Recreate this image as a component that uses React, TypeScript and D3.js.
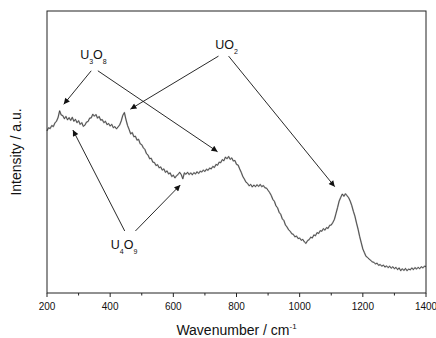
import React from 'react';
import * as d3 from 'd3';

const wavenumbers: number[] = d3.range(200, 1401, 5);
const intensity: number[] = [
  57.5, 58.6, 58.3, 59.4, 59.0, 60.3, 60.9, 62.2, 64.6, 63.1,
  62.9, 61.8, 62.6, 61.4, 62.2, 61.2, 62.3, 60.9, 61.6, 60.4,
  61.1, 59.8, 60.4, 59.1, 59.5, 60.6, 60.8, 62.0, 62.1, 63.4,
  62.7, 63.3, 62.0, 62.6, 61.3, 61.5, 60.4, 60.9, 59.7, 60.1,
  59.2, 59.8, 58.6, 59.0, 58.2, 58.9, 59.6, 61.0, 63.0, 64.0,
  61.5, 59.4, 58.0, 56.4, 56.9, 55.4, 55.6, 54.2, 54.5, 52.9,
  52.6, 51.5, 50.9, 49.4, 48.9, 47.6, 47.8, 46.4, 46.3, 45.2,
  45.5, 44.4, 44.7, 43.6, 44.0, 42.8, 43.3, 42.2, 42.6, 41.3,
  41.8, 40.8, 41.6, 42.0, 42.8, 42.0, 40.5, 42.6, 42.1, 42.8,
  42.0, 42.6, 41.9, 42.7, 42.2, 43.0, 42.4, 43.2, 42.9, 43.6,
  43.1, 43.9, 43.5, 44.3, 44.0, 44.9, 44.5, 45.6, 45.3, 46.4,
  46.2, 47.3, 46.9, 48.2, 47.6, 48.4, 47.4, 47.9, 46.8, 47.0,
  45.6, 45.4, 44.0, 42.8, 41.3, 40.4, 39.3, 38.9, 38.0, 38.5,
  37.6, 38.3, 37.7, 38.4, 37.8, 38.5, 37.7, 38.1, 37.3, 37.2,
  36.4, 35.6, 34.6, 33.2, 32.5, 30.9, 30.2, 28.6, 27.9, 26.3,
  25.7, 24.1, 23.4, 22.4, 21.9, 21.0, 20.8, 19.9, 20.2, 19.3,
  19.5, 18.7, 19.0, 18.1, 17.6, 18.6, 18.9, 19.8, 19.5, 20.6,
  20.3, 21.4, 21.1, 22.1, 21.9, 22.8, 22.3, 23.2, 22.9, 24.0,
  24.1, 25.0, 26.1, 28.2, 30.3, 32.6, 33.9, 35.1, 34.3, 35.2,
  34.5, 33.8, 32.6, 31.0, 29.0, 27.2, 24.8, 22.6, 20.0, 17.8,
  15.6, 14.3, 13.0, 12.6, 12.0, 11.6, 11.0, 10.9, 10.3, 10.6,
  9.8, 10.1, 9.5, 9.9, 9.2, 9.6, 9.0, 9.5, 8.8, 9.3,
  8.6, 9.1, 8.3, 8.9, 7.9, 8.6, 8.0, 8.7, 7.9, 8.5,
  8.2, 8.9, 8.3, 9.0, 8.5, 9.1, 8.6, 9.3, 8.9, 9.5,
  9.4,
];

const majorTicks = [200, 400, 600, 800, 1000, 1200, 1400];
const minorTicks = [300, 500, 700, 900, 1100, 1300];

// annotation labels, anchor in data units
const labels = [
  { parts: ['U', '3', 'O', '8'], x: 305, y: 83.1 },
  { parts: ['U', 'O', '2'], x: 733, y: 86.5 },
  { parts: ['U', '4', 'O', '9'], x: 402, y: 15.6 },
];
const subFlags = [
  [false, true, false, true],
  [false, false, true],
  [false, true, false, true],
];

// arrows: from [cm-1, a.u.] to [cm-1, a.u.]
const arrows = [
  { x1: 340, y1: 78.8, x2: 253, y2: 66.9 },
  { x1: 361, y1: 78.8, x2: 740, y2: 50.1 },
  { x1: 743, y1: 84.0, x2: 464, y2: 65.2 },
  { x1: 775, y1: 84.0, x2: 1111, y2: 37.7 },
  { x1: 446, y1: 22.0, x2: 282, y2: 57.8 },
  { x1: 480, y1: 22.0, x2: 622, y2: 38.3 },
];

const W = 436;
const H = 338;
const margin = { top: 11, right: 10, bottom: 45, left: 47 };
const font = '"Liberation Sans", Arial, sans-serif';

const App: React.FC = () => {
  const x = d3.scaleLinear().domain([200, 1400]).range([margin.left, W - margin.right]);
  const y = d3.scaleLinear().domain([0, 100]).range([H - margin.bottom, margin.top]);

  const pts: [number, number][] = wavenumbers.map((w, i) => [w, intensity[i]]);
  const line = d3.line<[number, number]>()
    .x(d => x(d[0]))
    .y(d => y(d[1]));
  const d = line(pts) || '';

  const x0 = x(200);
  const x1 = x(1400);
  const yb = y(0);
  const yt = y(100);

  return (
    <svg width={W} height={H} style={{ position: 'absolute', left: 0, top: 0 }} fontFamily={font}>
      <defs>
        <marker id="ah" viewBox="0 0 10 10" refX="10" refY="5" markerWidth="8" markerHeight="6"
          markerUnits="userSpaceOnUse" orient="auto">
          <path d="M0,0 L10,5 L0,10 Z" fill="#111" />
        </marker>
      </defs>
      <rect x={0} y={0} width={W} height={H} fill="#fff" />

      {/* spectrum: light grey halo under a dark trace */}
      <path d={d} fill="none" stroke="#bbb" strokeWidth={1.6} strokeLinejoin="round" />
      <path d={d} fill="none" stroke="#222" strokeWidth={0.7} strokeLinejoin="round" />

      {/* frame */}
      <rect x={x0} y={yt} width={x1 - x0} height={yb - yt} fill="none" stroke="#222" strokeWidth={1} />

      {/* bottom axis ticks */}
      {majorTicks.map(t => (
        <g key={t}>
          <line x1={x(t)} x2={x(t)} y1={yb} y2={yb + 4} stroke="#222" strokeWidth={1} />
          <text x={x(t)} y={310} fontSize={10} textAnchor="middle" fill="#111">{t}</text>
        </g>
      ))}
      {minorTicks.map(t => (
        <line key={t} x1={x(t)} x2={x(t)} y1={yb} y2={yb + 2.5} stroke="#222" strokeWidth={1} />
      ))}

      {/* axis titles */}
      <text x={(x0 + x1) / 2} y={335} fontSize={14} textAnchor="middle" fill="#111">
        Wavenumber / cm<tspan fontSize={8} dy={-6}>-1</tspan>
      </text>
      <text transform={`translate(21,${(yb + yt) / 2}) rotate(-90)`} fontSize={14} textAnchor="middle" fill="#111">
        Intensity / a.u.
      </text>

      {/* arrows */}
      {arrows.map((a, i) => (
        <line key={i} x1={x(a.x1)} y1={y(a.y1)} x2={x(a.x2)} y2={y(a.y2)}
          stroke="#111" strokeWidth={0.9} markerEnd="url(#ah)" />
      ))}

      {/* labels */}
      {labels.map((l, i) => {
        let prevSub = false;
        return (
          <text key={i} x={x(l.x)} y={y(l.y)} fontSize={12.5} fill="#111">
            {l.parts.map((p, j) => {
              const sub = subFlags[i][j];
              const dy = sub && !prevSub ? 5 : !sub && prevSub ? -5 : 0;
              prevSub = sub;
              return (
                <tspan key={j} dy={dy} fontSize={sub ? 7 : 12.5}>{p}</tspan>
              );
            })}
          </text>
        );
      })}
    </svg>
  );
};

export default App;
